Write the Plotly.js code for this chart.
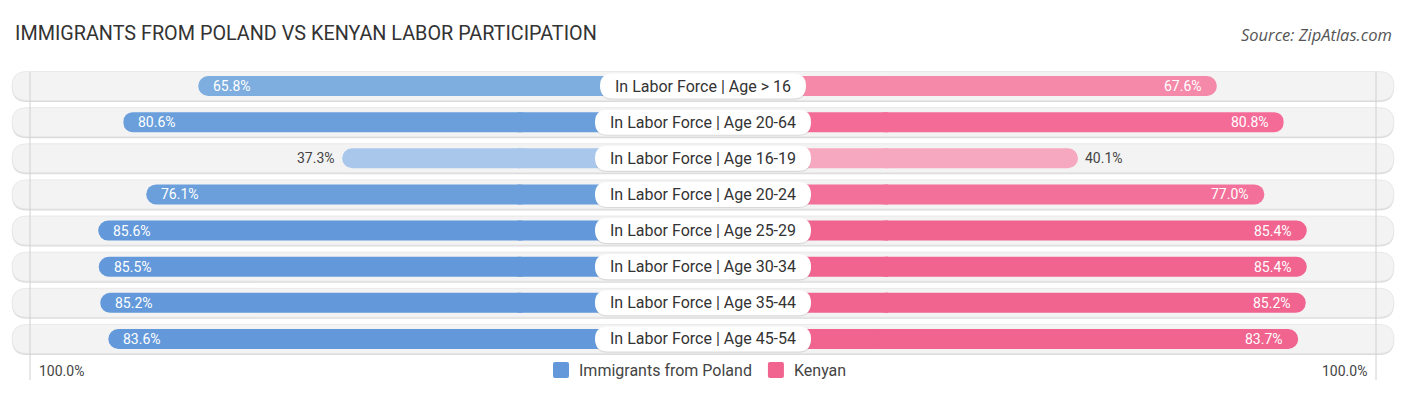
<!DOCTYPE html>
<html>
<head>
<meta charset="utf-8">
<script src="https://cdn.plot.ly/plotly-3.0.1.min.js"></script>
<style>html,body{margin:0;padding:0;background:#fff}#chart{width:1406px;height:395px}</style>
</head>
<body>
<div id="chart"></div>
<script>
// ---- data ----
const categories = [
  "In Labor Force | Age > 16",
  "In Labor Force | Age 20-64",
  "In Labor Force | Age 16-19",
  "In Labor Force | Age 20-24",
  "In Labor Force | Age 25-29",
  "In Labor Force | Age 30-34",
  "In Labor Force | Age 35-44",
  "In Labor Force | Age 45-54"
];
const polandValues = [65.8, 80.6, 37.3, 76.1, 85.6, 85.5, 85.2, 83.6];
const kenyanValues = [67.6, 80.8, 40.1, 77.0, 85.4, 85.4, 85.2, 83.7];
const seriesNames = ["Immigrants from Poland", "Kenyan"];
const axisEndLabel = "100.0%";
const titleText = "IMMIGRANTS FROM POLAND VS KENYAN LABOR PARTICIPATION";
const sourceText = "Source: ZipAtlas.com";

// ---- style ----
const polandColors = ["#7eaee0", "#6a9fdc", "#a8c7eb", "#6a9fdc", "#6399da", "#6399da", "#6399da", "#6399da"];
const kenyanColors = ["#f589aa", "#f56b98", "#f7a8c1", "#f27099", "#f0648f", "#f0648f", "#f0648f", "#f0648f"];
const legendColors = ["#6399da", "#f0648f"];
const W = 1406, H = 395;
const PX_PER_UNIT = 5.05;          // pixels per percentage point
const CX = 703;                    // center pixel
const OFF = 34.16;                 // bar base offset from center (percent units)
const ROW0 = 86, ROWSTEP = 36.14;  // row centre pixel positions
const n = categories.length;
const idx = categories.map((_, i) => i);

const xHalf = CX / PX_PER_UNIT;
const yTop = -ROW0 / ROWSTEP, yBot = (H - ROW0) / ROWSTEP;
const pxX = p => (p - CX) / PX_PER_UNIT;
const pxY = p => (p - ROW0) / ROWSTEP;

function rrect(x0, x1, y0, y1, rx, ry) {
  return `M${x0 + rx},${y0} L${x1 - rx},${y0} Q${x1},${y0} ${x1},${y0 + ry} L${x1},${y1 - ry} Q${x1},${y1} ${x1 - rx},${y1} L${x0 + rx},${y1} Q${x0},${y1} ${x0},${y1 - ry} L${x0},${y0 + ry} Q${x0},${y0} ${x0 + rx},${y0} Z`;
}

const ctx = document.createElement("canvas").getContext("2d");
ctx.font = "16px Roboto";

const shapes = [];
const annotations = [];
const rowH = 29 / ROWSTEP, rowR = 14.5;
const barW = 20 / ROWSTEP;
idx.forEach(i => {
  const x0 = pxX(12), x1 = pxX(1394);
  shapes.push({type: "path", layer: "below", xref: "x", yref: "y",
    path: rrect(x0, x1, i - rowH / 2 + 1.5 / ROWSTEP, i + rowH / 2 + 1.5 / ROWSTEP, rowR / PX_PER_UNIT, rowR / ROWSTEP),
    fillcolor: "#dcdcdc", line: {width: 0}});
  shapes.push({type: "path", layer: "below", xref: "x", yref: "y",
    path: rrect(x0, x1, i - rowH / 2, i + rowH / 2, rowR / PX_PER_UNIT, rowR / ROWSTEP),
    fillcolor: "#f3f3f3", line: {color: "#e4e4e4", width: 0.8}});
});
// faint vertical guide lines at 100%
[pxX(30), pxX(1376)].forEach(x => {
  shapes.push({type: "line", layer: "below", xref: "x", yref: "y", x0: x, x1: x,
    y0: pxY(72), y1: pxY(380), line: {color: "#d0d0d0", width: 1}});
});
// inner fillers joining each bar to the centre (hidden mostly under the label)
idx.forEach(i => {
  shapes.push({type: "rect", layer: "below", xref: "x", yref: "y",
    x0: -(OFF + 2.5), x1: 0, y0: i - barW / 2, y1: i + barW / 2,
    fillcolor: polandColors[i], line: {width: 0}});
  shapes.push({type: "rect", layer: "below", xref: "x", yref: "y",
    x0: 0, x1: OFF + 2.5, y0: i - barW / 2, y1: i + barW / 2,
    fillcolor: kenyanColors[i], line: {width: 0}});
});
// centre label boxes
idx.forEach(i => {
  const tw = ctx.measureText(categories[i]).width;
  const half = (tw + 30) / 2 / PX_PER_UNIT;
  const bh = 25 / ROWSTEP, r = 12.5;
  shapes.push({type: "path", layer: "above", xref: "x", yref: "y",
    path: rrect(-half, half, i - bh / 2 + 1.2 / ROWSTEP, i + bh / 2 + 1.2 / ROWSTEP, r / PX_PER_UNIT, r / ROWSTEP),
    fillcolor: "rgba(0,0,0,0.10)", line: {width: 0}});
  shapes.push({type: "path", layer: "above", xref: "x", yref: "y",
    path: rrect(-half, half, i - bh / 2, i + bh / 2, r / PX_PER_UNIT, r / ROWSTEP),
    fillcolor: "#ffffff", line: {width: 0}});
  annotations.push({x: 0, y: i, xref: "x", yref: "y", text: categories[i], showarrow: false,
    font: {family: "Roboto", size: 16, color: "#333333"}, xanchor: "center", yanchor: "middle"});
});
// value labels
const INSIDE_MIN = 50;
idx.forEach(i => {
  const pv = polandValues[i], kv = kenyanValues[i];
  const pEnd = -(OFF + pv), kEnd = OFF + kv;
  const pIn = pv >= INSIDE_MIN, kIn = kv >= INSIDE_MIN;
  annotations.push({x: pEnd, y: i, xref: "x", yref: "y", text: pv.toFixed(1) + "%", showarrow: false,
    xanchor: pIn ? "left" : "right", xshift: pIn ? 13 : -5, yanchor: "middle",
    font: {family: "Roboto", size: 14, color: pIn ? "#ffffff" : "#444444"}});
  annotations.push({x: kEnd, y: i, xref: "x", yref: "y", text: kv.toFixed(1) + "%", showarrow: false,
    xanchor: kIn ? "right" : "left", xshift: kIn ? -13 : 5, yanchor: "middle",
    font: {family: "Roboto", size: 14, color: kIn ? "#ffffff" : "#444444"}});
});
// axis end labels
annotations.push({x: pxX(37), y: pxY(371), xref: "x", yref: "y", text: axisEndLabel, showarrow: false,
  xanchor: "left", yanchor: "middle", font: {family: "Roboto", size: 14, color: "#444444"}});
annotations.push({x: pxX(1369), y: pxY(371), xref: "x", yref: "y", text: axisEndLabel, showarrow: false,
  xanchor: "right", yanchor: "middle", font: {family: "Roboto", size: 14, color: "#444444"}});
// legend (custom)
ctx.font = "16px Roboto";
const legItems = seriesNames.map((s, k) => ({name: s, color: legendColors[k], w: ctx.measureText(s).width}));
const sq = 16, gapText = 8, gapItems = 18;
let cur = 553;
legItems.forEach(it => {
  shapes.push({type: "path", layer: "above", xref: "x", yref: "y",
    path: rrect(pxX(cur), pxX(cur + sq), pxY(370 - sq / 2), pxY(370 + sq / 2), 2 / PX_PER_UNIT, 2 / ROWSTEP),
    fillcolor: it.color, line: {width: 0}});
  annotations.push({x: pxX(cur + sq + gapText), y: pxY(370), xref: "x", yref: "y", text: it.name, showarrow: false,
    xanchor: "left", yanchor: "middle", font: {family: "Roboto", size: 16, color: "#444444"}});
  cur += sq + gapText + it.w + gapItems;
});
// title & source
annotations.push({x: pxX(13), y: pxY(33), xref: "x", yref: "y", text: titleText, showarrow: false,
  xanchor: "left", yanchor: "middle", font: {family: "Roboto", size: 19.8, color: "#333333"}});
annotations.push({x: pxX(1394), y: pxY(34), xref: "x", yref: "y", text: "<i>" + sourceText + "</i>", showarrow: false,
  xanchor: "right", yanchor: "middle", font: {family: "Open Sans", size: 16.5, color: "#555555"}});

const traces = [
  {type: "bar", orientation: "h", name: seriesNames[0], y: idx, x: polandValues.map(v => -v),
   base: idx.map(() => -OFF), width: barW, marker: {color: polandColors, line: {width: 0}},
   hoverinfo: "skip", showlegend: false},
  {type: "bar", orientation: "h", name: seriesNames[1], y: idx, x: kenyanValues,
   base: idx.map(() => OFF), width: barW, marker: {color: kenyanColors, line: {width: 0}},
   hoverinfo: "skip", showlegend: false}
];

const layout = {
  width: W, height: H,
  margin: {l: 0, r: 0, t: 0, b: 0, pad: 0},
  paper_bgcolor: "#ffffff", plot_bgcolor: "rgba(0,0,0,0)",
  barmode: "overlay",
  barcornerradius: 10,
  xaxis: {range: [-xHalf, xHalf], visible: false, fixedrange: true},
  yaxis: {range: [yBot, yTop], visible: false, fixedrange: true},
  shapes: shapes,
  annotations: annotations,
  showlegend: false
};
Plotly.newPlot("chart", traces, layout, {displayModeBar: false, staticPlot: true});
</script>
</body>
</html>
